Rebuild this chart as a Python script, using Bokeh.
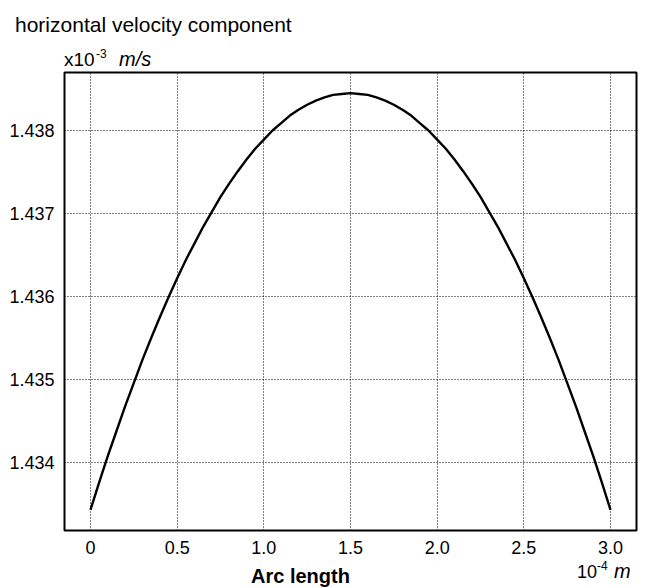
from bokeh.plotting import figure
from bokeh.models import FixedTicker, Range1d, Div
from bokeh.layouts import column
from bokeh.embed import file_html
from bokeh.resources import INLINE

# Arc length (x10^-4 m)
arc_length = [0.00, 0.05, 0.10, 0.15, 0.20, 0.25, 0.30, 0.35, 0.40, 0.45,
              0.50, 0.55, 0.60, 0.65, 0.70, 0.75, 0.80, 0.85, 0.90, 0.95,
              1.00, 1.05, 1.10, 1.15, 1.20, 1.25, 1.30, 1.35, 1.40, 1.45,
              1.50, 1.55, 1.60, 1.65, 1.70, 1.75, 1.80, 1.85, 1.90, 1.95,
              2.00, 2.05, 2.10, 2.15, 2.20, 2.25, 2.30, 2.35, 2.40, 2.45,
              2.50, 2.55, 2.60, 2.65, 2.70, 2.75, 2.80, 2.85, 2.90, 2.95, 3.00]
# horizontal velocity component (x10^-3 m/s)
velocity = [1.43343, 1.43376, 1.43408, 1.43438, 1.43468, 1.43496, 1.43524, 1.43550,
            1.43575, 1.43599, 1.43622, 1.43644, 1.43664, 1.43684, 1.43702, 1.43720,
            1.43736, 1.43751, 1.43765, 1.43778, 1.43789, 1.43800, 1.43809, 1.43818,
            1.43825, 1.43831, 1.43836, 1.43840, 1.43843, 1.43844, 1.43845,
            1.43844, 1.43843, 1.43840, 1.43836, 1.43831, 1.43825, 1.43818, 1.43809,
            1.43800, 1.43789, 1.43778, 1.43765, 1.43751, 1.43736, 1.43720, 1.43702,
            1.43684, 1.43664, 1.43644, 1.43622, 1.43599, 1.43575, 1.43550, 1.43524,
            1.43496, 1.43468, 1.43438, 1.43408, 1.43376, 1.43343]

x_ticks = [0, 0.5, 1.0, 1.5, 2.0, 2.5, 3.0]
x_tick_labels = ["0", "0.5", "1.0", "1.5", "2.0", "2.5", "3.0"]
y_ticks = [1.434, 1.435, 1.436, 1.437, 1.438]
y_tick_labels = ["1.434", "1.435", "1.436", "1.437", "1.438"]

title_text = "horizontal velocity component"
x_label = "Arc length"

FONT = "'Liberation Sans', Arial, sans-serif"
W = 646
TOP_H = 70
FIG_H = 490
BOT_H = 28

p = figure(width=W, height=FIG_H, output_backend="svg", toolbar_location=None,
           x_range=Range1d(-0.15, 3.15), y_range=Range1d(1.433181, 1.438699),
           min_border_left=64, min_border_right=10,
           min_border_top=2, min_border_bottom=30, margin=0)

p.line(arc_length, velocity, line_color="black", line_width=2.4)

p.outline_line_color = "black"
p.outline_line_width = 2
p.outline_line_alpha = 1

for ax in (p.xaxis[0], p.yaxis[0]):
    ax.axis_line_color = None
    ax.major_tick_line_color = None
    ax.minor_tick_line_color = None
    ax.major_label_text_font = "Liberation Sans"
    ax.major_label_text_font_size = "18px"
    ax.major_label_text_color = "black"

p.xaxis[0].ticker = FixedTicker(ticks=x_ticks)
p.xaxis[0].major_label_overrides = {t: l for t, l in zip(x_ticks, x_tick_labels)}
p.xaxis[0].major_label_standoff = 4
p.yaxis[0].ticker = FixedTicker(ticks=y_ticks)
p.yaxis[0].major_label_overrides = {t: l for t, l in zip(y_ticks, y_tick_labels)}
p.yaxis[0].major_label_standoff = 4

for g in (p.xgrid[0], p.ygrid[0]):
    g.grid_line_color = "#000000"
    g.grid_line_dash = "1 2"
    g.grid_line_width = 1


def span(text, left, baseline, size, style=""):
    top = baseline - 0.8465 * size
    return (f'<span style="position:absolute;left:{left}px;top:{top:.1f}px;'
            f'font-family:{FONT};font-size:{size}px;line-height:{size}px;'
            f'white-space:nowrap;color:#000;{style}">{text}</span>')


def box(h, inner):
    return (f'<div style="position:relative;width:{W}px;height:{h}px;'
            f'overflow:visible;margin:0;padding:0;">{inner}</div>')


top_html = box(TOP_H,
               span(title_text, 15, 32, 21)
               + span("x10", 64, 66, 19)
               + span("-3", 96, 58, 12)
               + span("m/s", 119, 66, 20, "font-style:italic;"))

bot_html = box(BOT_H,
               span(x_label, 251, 23, 20, "font-weight:bold;")
               + span("10", 577, 18, 18)
               + span("-4", 597, 10, 12)
               + span("m", 614, 18, 20, "font-style:italic;"))

top_div = Div(text=top_html, width=W, height=TOP_H, margin=0,
              styles={"overflow": "visible"})
bot_div = Div(text=bot_html, width=W, height=BOT_H, margin=0,
              styles={"overflow": "visible"})

layout = column(top_div, p, bot_div, spacing=0, margin=0)

open("out.html", "w").write(file_html(layout, INLINE))
